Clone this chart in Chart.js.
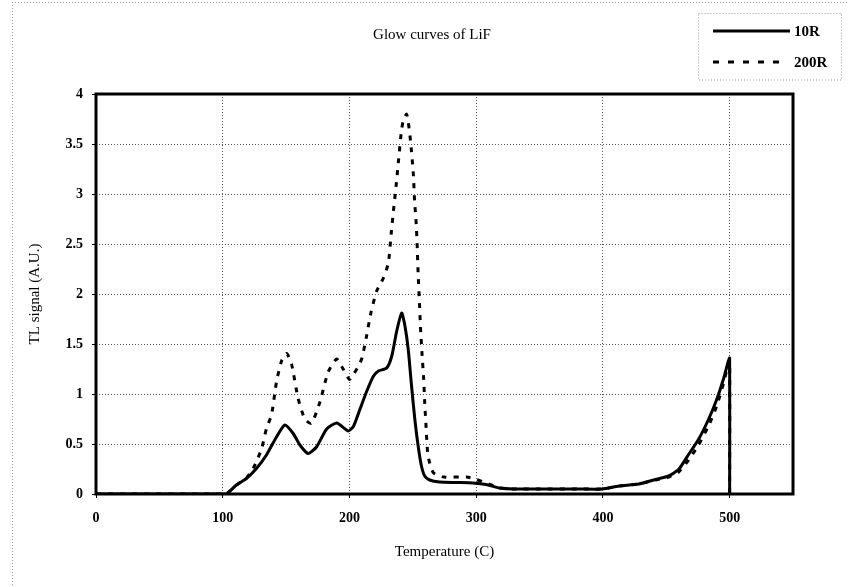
<!DOCTYPE html>
<html><head><meta charset="utf-8">
<script src="https://cdn.jsdelivr.net/npm/chart.js@4/dist/chart.umd.min.js"></script>
<style>html,body{margin:0;padding:0;background:#fff}#wrap{width:848px;height:587px;position:relative}</style>
</head><body><div id="wrap"><canvas id="c" width="848" height="587"></canvas></div>
<script>
const chartTitle = "Glow curves of LiF";
const xTitle = "Temperature (C)";
const yTitle = "TL signal (A.U.)";
const seriesNames = ["10R", "200R"];
const xTicks = [0, 100, 200, 300, 400, 500];
const yTicks = [0, 0.5, 1, 1.5, 2, 2.5, 3, 3.5, 4];

const temps10R = [0,100,103,110.8,118.7,126.6,134.5,142.4,149,155.6,160.9,167.4,174,182,190,199,203.3,208.5,213.7,219,222.9,229.4,233.4,237.3,241.2,243.8,246.4,249,251.6,254.2,256.8,259.4,263.3,271.2,285,297.3,307.8,318.3,330,350,380,399.5,412.6,428.3,441.4,451.9,459.7,467.6,475.4,483.3,489.8,495,499,500,500];
const signal10R = [0,0,0,0.09,0.155,0.255,0.39,0.57,0.69,0.605,0.49,0.405,0.47,0.65,0.71,0.63,0.68,0.855,1.03,1.18,1.23,1.26,1.38,1.63,1.81,1.68,1.445,1.08,0.745,0.48,0.28,0.18,0.14,0.12,0.115,0.11,0.095,0.06,0.05,0.05,0.05,0.05,0.08,0.1,0.145,0.18,0.245,0.395,0.545,0.745,0.945,1.145,1.33,1.36,0];

const temps200R = [0,100,103,110.8,118.7,124,130.6,134.5,138.5,142.4,146.4,150.4,154.3,159.5,164.8,170,176.7,183.2,190,195,200,203.3,207.2,209.9,213.2,216.9,221.5,226.8,230.7,232.9,234.7,236.8,238.6,241,242.4,245,246.3,248.2,250.4,251.4,252.7,253.5,254.2,255.2,256,257.3,258.6,259.4,260.5,261.7,263.3,266.4,274.3,292.6,300,310,318.3,330,350,380,399.5,412.6,428.3,441.4,451.9,459.7,467.6,475.4,483.3,489.8,495,499,500,500];
const signal200R = [0,0,0,0.09,0.16,0.255,0.45,0.655,0.79,1.12,1.33,1.405,1.3,0.955,0.75,0.705,0.92,1.22,1.35,1.25,1.145,1.2,1.28,1.36,1.56,1.81,2.03,2.16,2.31,2.6,2.83,3.08,3.32,3.63,3.73,3.8,3.73,3.53,3.2,2.93,2.7,2.46,2.2,1.93,1.68,1.395,1.145,0.91,0.66,0.41,0.31,0.21,0.17,0.17,0.145,0.1,0.06,0.05,0.05,0.05,0.05,0.08,0.1,0.14,0.17,0.22,0.34,0.49,0.68,0.88,1.1,1.3,1.33,0];

const toPts = (xs, ys) => xs.map((x, i) => ({x: x, y: ys[i]}));

const FONT = "'Liberation Serif', 'Times New Roman', serif";
const AREA = {left: 96, top: 94, right: 793, bottom: 494};

const framePlugin = {
  id: 'frame',
  beforeDraw(chart) {
    const ctx = chart.ctx;
    ctx.save();
    ctx.fillStyle = '#fff';
    ctx.fillRect(0, 0, chart.width, chart.height);
    ctx.strokeStyle = '#999';
    ctx.lineWidth = 1;
    ctx.setLineDash([1, 2]);
    ctx.beginPath();
    ctx.moveTo(12, 2.5); ctx.lineTo(848, 2.5);
    ctx.moveTo(12.5, 2); ctx.lineTo(12.5, 587);
    ctx.stroke();
    ctx.strokeRect(698.5, 13.5, 143, 66.5);
    ctx.restore();
  },
  afterDraw(chart) {
    const ctx = chart.ctx;
    const a = chart.chartArea;
    ctx.save();
    ctx.strokeStyle = '#000';
    ctx.lineWidth = 3;
    ctx.setLineDash([]);
    ctx.strokeRect(a.left, a.top, a.right - a.left, a.bottom - a.top);
    ctx.fillStyle = '#000';
    ctx.font = '15px ' + FONT;
    ctx.textAlign = 'center';
    ctx.textBaseline = 'middle';
    ctx.fillText(chartTitle, 432, 35);
    const ds = chart.data.datasets;
    const rows = [31, 62];
    ds.forEach((d, i) => {
      ctx.beginPath();
      ctx.lineWidth = 3;
      ctx.setLineDash(i === 0 ? [] : [6, 9]);
      ctx.moveTo(713, rows[i]); ctx.lineTo(i === 0 ? 790 : 781, rows[i]);
      ctx.stroke();
      ctx.setLineDash([]);
      ctx.font = 'bold 15px ' + FONT;
      ctx.textAlign = 'left';
      ctx.fillText(d.label, 794, rows[i] + 1);
    });
    ctx.restore();
  }
};

new Chart(document.getElementById('c'), {
  type: 'scatter',
  data: {
    datasets: [
      {label: seriesNames[0], data: toPts(temps10R, signal10R), showLine: true, borderColor: '#000', borderWidth: 3, pointRadius: 0, tension: 0.2, fill: false},
      {label: seriesNames[1], data: toPts(temps200R, signal200R), showLine: true, borderColor: '#000', borderWidth: 3, borderDash: [5, 7], pointRadius: 0, tension: 0.2, fill: false}
    ]
  },
  options: {
    responsive: false,
    animation: false,
    layout: {padding: {left: 0, top: AREA.top, right: 848 - AREA.right, bottom: 0}},
    plugins: {legend: {display: false}, tooltip: {enabled: false}, title: {display: false}},
    scales: {
      x: {
        type: 'linear', min: 0, max: 550,
        afterFit: s => { s.height = 587 - AREA.bottom; },
        afterBuildTicks: s => { s.ticks = xTicks.map(v => ({value: v})); },
        ticks: {color: '#000', font: {family: FONT, size: 14, weight: 'bold'}, padding: 12, maxRotation: 0, callback: v => String(v)},
        grid: {color: '#555', lineWidth: 1, tickLength: 4, tickColor: '#000', tickBorderDash: []},
        border: {display: false, dash: [1, 2]},
        title: {display: true, text: xTitle, color: '#000', font: {family: FONT, size: 15}, padding: {top: 0, bottom: 26}}
      },
      y: {
        type: 'linear', min: 0, max: 4,
        afterFit: s => { s.width = AREA.left; },
        afterBuildTicks: s => { s.ticks = yTicks.map(v => ({value: v})); },
        ticks: {color: '#000', font: {family: FONT, size: 14, weight: 'bold'}, padding: 9, callback: v => String(v)},
        grid: {color: '#555', lineWidth: 1, tickLength: 4, tickColor: '#000', tickBorderDash: []},
        border: {display: false, dash: [1, 2]},
        title: {display: true, text: yTitle, color: '#000', font: {family: FONT, size: 15}, padding: {top: 26, bottom: 0}}
      }
    }
  },
  plugins: [framePlugin]
});
</script></body></html>
